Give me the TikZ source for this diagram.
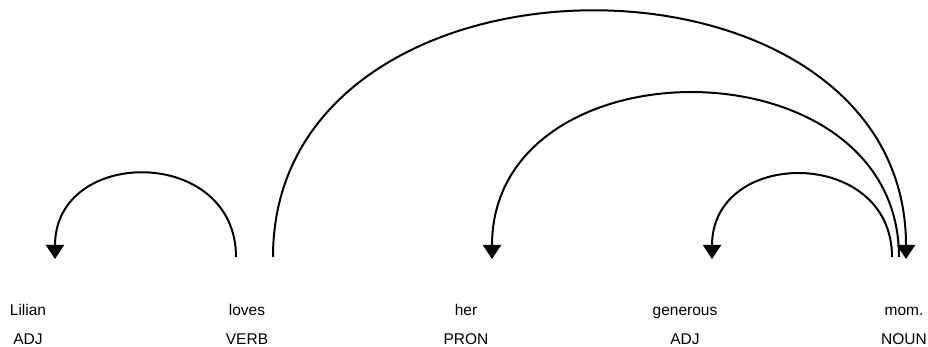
\documentclass[tikz,border=0pt]{standalone}
\usepackage{fontspec}
\setmainfont{Liberation Sans}
\usetikzlibrary{arrows.meta,positioning,calc}

\begin{document}
\begin{tikzpicture}[x=1pt, y=-1pt,
  word/.style={font=\fontsize{15.5}{18}\selectfont, inner sep=0pt,
    text height=11pt, text depth=3pt, anchor=base},
  tag/.style={font=\fontsize{15.5}{18}\selectfont, inner sep=0pt,
    text height=11pt, text depth=3pt},
  arc/.style={-{Triangle[length=14pt,width=18pt]}, line width=2pt},
  plain/.style={line width=2pt}]
\useasboundingbox (0,0) rectangle (928,347);
\node[word] (lilian) at (28,315) {Lilian};
\node[word] (loves) at (247,315) {loves};
\node[word] (her) at (466,315) {her};
\node[word] (generous) at (685,315) {generous};
\node[word] (mom) at (904,315) {mom.};
\node[tag, below=15pt of lilian] (tlilian) {ADJ};
\node[tag, below=15pt of loves] (tloves) {VERB};
\node[tag, below=15pt of her] (ther) {PRON};
\node[tag, below=15pt of generous] (tgenerous) {ADJ};
\node[tag, below=15pt of mom] (tmom) {NOUN};
% arc ends above the words
\coordinate (h1) at ($(loves.base)+(-11,-58)$);
\coordinate (d1) at ($(lilian.base)+(27,-56)$);
\coordinate (h2) at ($(loves.base)+(26,-58)$);
\coordinate (d2) at ($(mom.base)+(2,-56)$);
\coordinate (h3) at ($(mom.base)+(-5,-58)$);
\coordinate (d3) at ($(her.base)+(26,-56)$);
\coordinate (h4) at ($(mom.base)+(-12,-58)$);
\coordinate (d4) at ($(generous.base)+(27,-56)$);
% the arcs
\draw[arc] (h1) .. controls +(0,-111) and +(0,-113) .. (d1);
\draw[arc] (h2) .. controls +(0,-327) and +(0,-329) .. (d2);
\draw[arc] (h3) .. controls +(0,-218) and +(0,-220) .. (d3);
\draw[arc] (h4) .. controls +(0,-110) and +(0,-112) .. (d4);
\end{tikzpicture}
\end{document}
